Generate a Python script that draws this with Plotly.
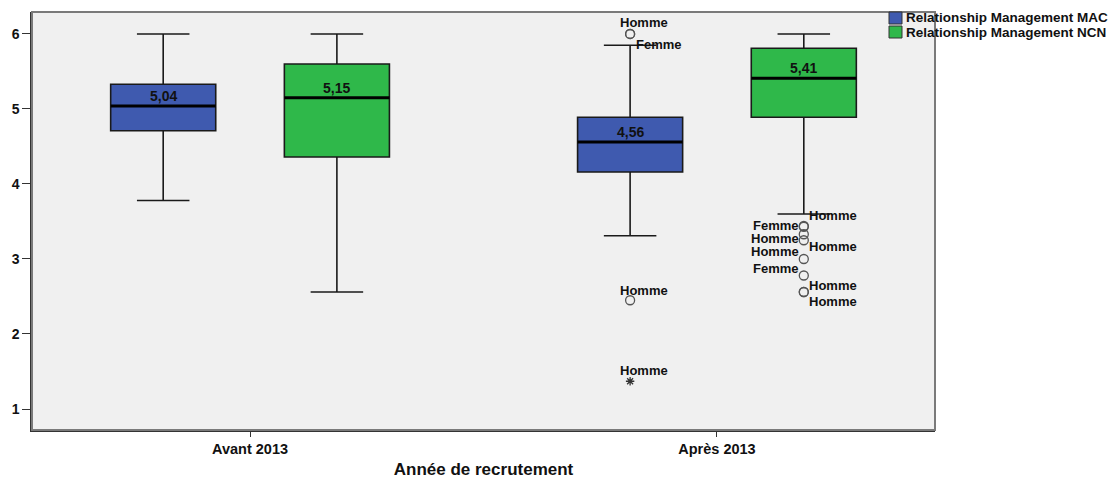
import plotly.graph_objects as go

# Recruitment period categories
categories = ["Avant 2013", "Après 2013"]

# Relationship Management MAC — five-number summaries per period
mac_lowerfence = [3.78, 3.31]
mac_q1 = [4.71, 4.16]
mac_median = [5.04, 4.56]
mac_q3 = [5.33, 4.89]
mac_upperfence = [6.00, 5.85]

# Relationship Management NCN — five-number summaries per period
ncn_lowerfence = [2.56, 3.60]
ncn_q1 = [4.36, 4.89]
ncn_median = [5.15, 5.41]
ncn_q3 = [5.60, 5.81]
ncn_upperfence = [6.00, 6.00]

# Outliers (category index, value, label)
mac_outlier_cat = [1, 1, 1]
mac_outlier_val = [6.00, 6.00, 2.45]
mac_outlier_lbl = ["Homme", "Femme", "Homme"]

mac_extreme_cat = [1]
mac_extreme_val = [1.37]
mac_extreme_lbl = ["Homme"]

ncn_outlier_cat = [1, 1, 1, 1, 1, 1, 1, 1]
ncn_outlier_val = [3.44, 3.43, 3.33, 3.25, 3.00, 2.78, 2.56, 2.56]
ncn_outlier_lbl = ["Homme", "Femme", "Homme", "Homme", "Homme", "Femme", "Homme", "Homme"]

series_names = ["Relationship Management MAC", "Relationship Management NCN"]
BLUE = "#3f5aaf"
GREEN = "#2fb84a"
FONT = "Liberation Sans"

W, H = 1110, 479
ML, MR, MT, MB = 32, 175, 12, 49
PW, PH = W - ML - MR, H - MT - MB

OFFSET = 0.186   # half distance between grouped boxes (category units)
WIDTH = 0.225    # box width (category units)


def px_x(px):
    return (px - ML) / PW


def px_y(py):
    return (H - MB - py) / PH


fig = go.Figure()


def add_box(name, color, sign, lf, q1, med, q3, uf):
    xs = [i + sign * OFFSET for i in range(len(categories))]
    fig.add_trace(go.Box(
        x=xs, q1=q1, median=med, q3=q3, lowerfence=lf, upperfence=uf,
        width=WIDTH, whiskerwidth=0.5, fillcolor=color,
        line=dict(color="#1a1a1a", width=1.6),
        boxpoints=False, showlegend=False, name=name, hoverinfo="skip",
    ))
    # thick median bar
    mx, my = [], []
    for x, m in zip(xs, med):
        mx += [x - WIDTH / 2, x + WIDTH / 2, None]
        my += [m, m, None]
    fig.add_trace(go.Scatter(x=mx, y=my, mode="lines",
                             line=dict(color="black", width=3),
                             showlegend=False, hoverinfo="skip"))
    # median value labels
    for x, m in zip(xs, med):
        fig.add_annotation(x=x, y=m, text=f"{m:.2f}".replace(".", ","),
                           showarrow=False, yshift=10,
                           font=dict(family=FONT, size=14, color="#111", weight="bold"))


add_box(series_names[0], BLUE, -1, mac_lowerfence, mac_q1, mac_median, mac_q3, mac_upperfence)
add_box(series_names[1], GREEN, 1, ncn_lowerfence, ncn_q1, ncn_median, ncn_q3, ncn_upperfence)

# outlier markers
mac_ox = [c - OFFSET for c in mac_outlier_cat]
ncn_ox = [c + OFFSET for c in ncn_outlier_cat]
mac_ex = [c - OFFSET for c in mac_extreme_cat]
circle = dict(symbol="circle-open", size=9, color="#555", line=dict(width=1.3, color="#555"))
fig.add_trace(go.Scatter(x=mac_ox, y=mac_outlier_val, mode="markers", marker=circle,
                         showlegend=False, hoverinfo="skip"))
fig.add_trace(go.Scatter(x=ncn_ox, y=ncn_outlier_val, mode="markers", marker=circle,
                         showlegend=False, hoverinfo="skip"))
fig.add_trace(go.Scatter(x=mac_ex, y=mac_extreme_val, mode="markers",
                         marker=dict(symbol="asterisk-open", size=7, color="#333",
                                     line=dict(width=1.3, color="#333")),
                         showlegend=False, hoverinfo="skip"))

lbl_font = dict(family=FONT, size=13, color="#111", weight="bold")

# label placement for each outlier: (xanchor, xshift, yshift)
mac_place = [("center", 14, 11), ("left", 4, -11), ("center", 14, 10)]
ncn_place = [("left", 3, 10), ("right", -3, 1), ("right", -3, -4), ("left", 3, -6),
             ("right", -3, 7), ("right", -3, 7), ("left", 3, 6), ("left", 3, -10)]

for x, v, t, (xa, xs_, ys_) in zip(mac_ox, mac_outlier_val, mac_outlier_lbl, mac_place):
    fig.add_annotation(x=x, y=v, text=t, showarrow=False, xanchor=xa,
                       xshift=xs_, yshift=ys_, font=lbl_font)
for x, v, t, (xa, xs_, ys_) in zip(ncn_ox, ncn_outlier_val, ncn_outlier_lbl, ncn_place):
    fig.add_annotation(x=x, y=v, text=t, showarrow=False, xanchor=xa,
                       xshift=xs_, yshift=ys_, font=lbl_font)
for x, v, t in zip(mac_ex, mac_extreme_val, mac_extreme_lbl):
    fig.add_annotation(x=x, y=v, text=t, showarrow=False, xanchor="center",
                       xshift=14, yshift=11, font=lbl_font)

# frame around plot area
fig.add_shape(type="rect", xref="paper", yref="paper", x0=0, y0=0, x1=1, y1=1,
              line=dict(color="#7a7a7a", width=2), layer="above")

# compact legend: colour swatch + series name
for k, (name, color) in enumerate(zip(series_names, [BLUE, GREEN])):
    cy = 18 + 14 * k
    fig.add_shape(type="rect", xref="paper", yref="paper",
                  x0=px_x(889), x1=px_x(902), y0=px_y(cy + 6), y1=px_y(cy - 6),
                  fillcolor=color, line=dict(color="#333", width=1), layer="above")
    fig.add_annotation(xref="paper", yref="paper", x=px_x(904), y=px_y(cy),
                       xanchor="left", yanchor="middle", text=name, showarrow=False,
                       font=dict(family=FONT, size=13.5, color="#111", weight="bold"))

fig.update_layout(
    width=W, height=H,
    margin=dict(l=ML, r=MR, t=MT, b=MB),
    paper_bgcolor="white", plot_bgcolor="#f0f0f0",
    font=dict(family=FONT, size=12, color="#111"),
    showlegend=False,
    xaxis=dict(range=[-0.467, 1.467], tickvals=list(range(len(categories))),
               ticktext=categories, showgrid=False, zeroline=False, automargin=False,
               ticks="outside", ticklen=5, tickcolor="#333",
               showline=True, linecolor="#333", linewidth=1.5,
               tickfont=dict(family=FONT, size=14.5, weight="bold"),
               title=dict(text="Année de recrutement", standoff=10,
                          font=dict(family=FONT, size=17, weight="bold"))),
    yaxis=dict(range=[0.72, 6.293], tickvals=[1, 2, 3, 4, 5, 6], automargin=False,
               showgrid=False, zeroline=False, ticks="outside", ticklen=8,
               tickcolor="#333", showline=True, linecolor="#333", linewidth=1.5,
               tickfont=dict(family=FONT, size=14, weight="bold")),
)

fig.write_html("out.html")
